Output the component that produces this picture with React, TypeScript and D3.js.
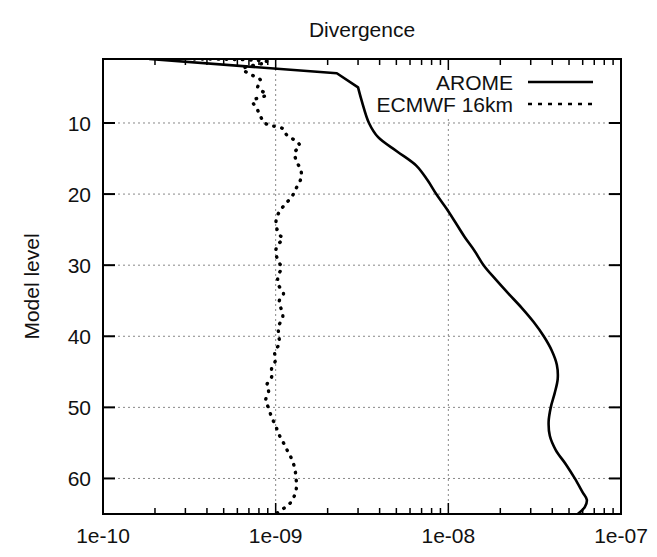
import React from "react";
import * as d3 from "d3";

const W = 657;
const H = 557;

const TITLE = "Divergence";
const Y_LABEL = "Model level";
const SERIES_NAMES = ["AROME", "ECMWF 16km"];

const X_TICK_VALUES = [1e-10, 1e-9, 1e-8, 1e-7];
const X_TICK_LABELS = ["1e-10", "1e-09", "1e-08", "1e-07"];
const Y_TICK_VALUES = [10, 20, 30, 40, 50, 60];

// AROME (solid)
const AROME_LEVELS = [1, 3, 5, 7, 10, 12, 14, 16, 18, 20, 22, 24, 26, 28, 30, 32, 34, 36, 38, 40, 42, 44, 46, 48, 50, 52, 54, 56, 58, 60, 62, 63, 64, 65];
const AROME_VALUES = [
  1.85e-10, 2.26e-9, 3.0e-9, 3.16e-9, 3.47e-9, 3.92e-9, 5.05e-9, 6.52e-9, 7.55e-9, 8.51e-9,
  9.73e-9, 1.10e-8, 1.24e-8, 1.42e-8, 1.60e-8, 1.88e-8, 2.23e-8, 2.66e-8, 3.12e-8, 3.57e-8,
  3.97e-8, 4.25e-8, 4.30e-8, 4.13e-8, 3.92e-8, 3.81e-8, 3.87e-8, 4.19e-8, 4.79e-8, 5.40e-8,
  6.01e-8, 6.34e-8, 6.18e-8, 5.62e-8,
];

// ECMWF 16km (dotted)
const ECMWF_LEVELS = [
  1.0, 1.4, 2.4, 3.3, 4.0, 5.1, 6.0, 6.9, 7.9, 9.1, 10.0, 10.4, 10.8, 11.7, 12.7, 13.3, 14.1, 15.4,
  16.6, 17.8, 19.1, 20.1, 21.2, 22.2, 23.4, 24.6, 25.7, 26.3, 27.1, 28.1, 29.3, 30.4, 31.5, 32.8,
  34.0, 35.0, 37.2, 38.6, 39.8, 41.0, 42.2, 43.3, 44.5, 45.7, 46.9, 47.8, 49.0, 50.1, 51.4, 52.6,
  53.7, 55.0, 56.1, 57.3, 58.6, 59.8, 61.2, 62.3, 63.5, 64.3, 65.0,
];
const ECMWF_VALUES = [
  3.38e-10, 8.97e-10, 6.43e-10, 7.35e-10, 8.18e-10, 7.86e-10, 8.87e-10, 7.35e-10, 7.76e-10, 8.18e-10,
  8.63e-10, 9.61e-10, 1.10e-9, 1.16e-9, 1.34e-9, 1.38e-9, 1.29e-9, 1.32e-9, 1.40e-9, 1.40e-9,
  1.32e-9, 1.26e-9, 1.16e-9, 1.07e-9, 1.01e-9, 1.01e-9, 1.05e-9, 1.10e-9, 1.03e-9, 1.00e-9,
  1.03e-9, 1.08e-9, 1.03e-9, 1.04e-9, 1.11e-9, 1.05e-9, 1.10e-9, 1.04e-9, 1.04e-9, 1.05e-9,
  9.87e-10, 1.00e-9, 9.48e-10, 9.48e-10, 8.87e-10, 9.10e-10, 8.75e-10, 9.10e-10, 9.48e-10, 1.00e-9,
  1.04e-9, 1.11e-9, 1.17e-9, 1.24e-9, 1.29e-9, 1.31e-9, 1.32e-9, 1.29e-9, 1.21e-9, 1.10e-9, 1.00e-9,
];

const FONT = "'Liberation Sans', Arial, Helvetica, sans-serif";

export default function App() {
  const left = 103, right = 621, top = 59, bottom = 514;
  const x = d3.scaleLog().domain([1e-10, 1e-7]).range([left, right]);
  const y = d3.scaleLinear().domain([1, 65]).range([top, bottom]);

  const minorTicks = x.ticks().filter((t) => !X_TICK_VALUES.some((v) => Math.abs(v - t) / v < 1e-6));

  const smooth = d3
    .line<[number, number]>()
    .x((d) => x(d[0]))
    .y((d) => y(d[1]))
    .curve(d3.curveCatmullRom.alpha(0.5));
  const straight = d3
    .line<[number, number]>()
    .x((d) => x(d[0]))
    .y((d) => y(d[1]));

  const aromeData: [number, number][] = AROME_LEVELS.map((l, i) => [AROME_VALUES[i], l]);
  const ecmwfData: [number, number][] = ECMWF_LEVELS.map((l, i) => [ECMWF_VALUES[i], l]);
  const aromeTopPath = straight(aromeData.slice(0, 3)) || "";
  const aromeRestPath = smooth(aromeData.slice(2)) || "";
  const aromePath = aromeTopPath + aromeRestPath.replace(/^M[^LC]*/, "");

  const gridStyle = { stroke: "#888", strokeWidth: 1, strokeDasharray: "2,3" };

  return (
    <svg
      width={W}
      height={H}
      style={{ position: "absolute", left: 0, top: 0, background: "#fff" }}
      fontFamily={FONT}
    >
      <rect x={0} y={0} width={W} height={H} fill="#fff" />
      <defs>
        <clipPath id="plotclip">
          <rect x={left} y={top} width={right - left} height={bottom - top} />
        </clipPath>
      </defs>

      {/* grid */}
      {Y_TICK_VALUES.map((t) => (
        <line key={"gy" + t} x1={left} x2={right} y1={y(t)} y2={y(t)} {...gridStyle} />
      ))}
      {X_TICK_VALUES.slice(1, -1).map((t) => (
        <line key={"gx" + t} x1={x(t)} x2={x(t)} y1={top} y2={bottom} {...gridStyle} />
      ))}

      {/* legend backing */}
      <rect x={366} y={top + 1} width={right - 366 - 1} height={56} fill="#fff" />

      {/* ticks */}
      {X_TICK_VALUES.map((t) => (
        <g key={"xt" + t}>
          <line x1={x(t)} x2={x(t)} y1={bottom} y2={bottom - 11} stroke="#000" strokeWidth={1.5} />
          <line x1={x(t)} x2={x(t)} y1={top} y2={top + 11} stroke="#000" strokeWidth={1.5} />
        </g>
      ))}
      {minorTicks.map((t, i) => (
        <g key={"mt" + i}>
          <line x1={x(t)} x2={x(t)} y1={bottom} y2={bottom - 6} stroke="#000" strokeWidth={1.5} />
          <line x1={x(t)} x2={x(t)} y1={top} y2={top + 6} stroke="#000" strokeWidth={1.5} />
        </g>
      ))}
      {Y_TICK_VALUES.map((t) => (
        <g key={"yt" + t}>
          <line x1={left} x2={left + 12} y1={y(t)} y2={y(t)} stroke="#000" strokeWidth={2} />
          <line x1={right} x2={right - 12} y1={y(t)} y2={y(t)} stroke="#000" strokeWidth={2} />
        </g>
      ))}

      {/* tick labels */}
      {X_TICK_VALUES.map((t, i) => (
        <text key={"xl" + t} x={x(t)} y={543} textAnchor="middle" fontSize={21} fill="#111">
          {X_TICK_LABELS[i]}
        </text>
      ))}
      {Y_TICK_VALUES.map((t) => (
        <text key={"yl" + t} x={91} y={y(t)} dy="0.36em" textAnchor="end" fontSize={21} fill="#111">
          {t}
        </text>
      ))}

      {/* title & axis label */}
      <text x={(left + right) / 2} y={37} textAnchor="middle" fontSize={21} fill="#111">
        {TITLE}
      </text>
      <text
        transform={`translate(39, ${(top + bottom) / 2}) rotate(-90)`}
        textAnchor="middle"
        fontSize={21}
        fill="#111"
      >
        {Y_LABEL}
      </text>

      {/* legend */}
      <text x={513} y={82} dy="0.36em" textAnchor="end" fontSize={21} fill="#111">
        {SERIES_NAMES[0]}
      </text>
      <line x1={528} x2={593} y1={82} y2={82} stroke="#000" strokeWidth={2.5} />
      <text x={513} y={104} dy="0.36em" textAnchor="end" fontSize={21} fill="#111">
        {SERIES_NAMES[1]}
      </text>
      <line x1={528} x2={593} y1={104} y2={104} stroke="#000" strokeWidth={2.5} strokeDasharray="4,6" />

      {/* series */}
      <g clipPath="url(#plotclip)">
        <path d={aromePath} fill="none" stroke="#000" strokeWidth={2.6} strokeLinejoin="round" />
        <path
          d={smooth(ecmwfData) || ""}
          fill="none"
          stroke="#000"
          strokeWidth={3.4}
          strokeLinecap="round"
          strokeDasharray="0.5,7.5"
        />
      </g>

      {/* frame */}
      <rect x={left} y={top} width={right - left} height={bottom - top} fill="none" stroke="#000" strokeWidth={2} />
    </svg>
  );
}
